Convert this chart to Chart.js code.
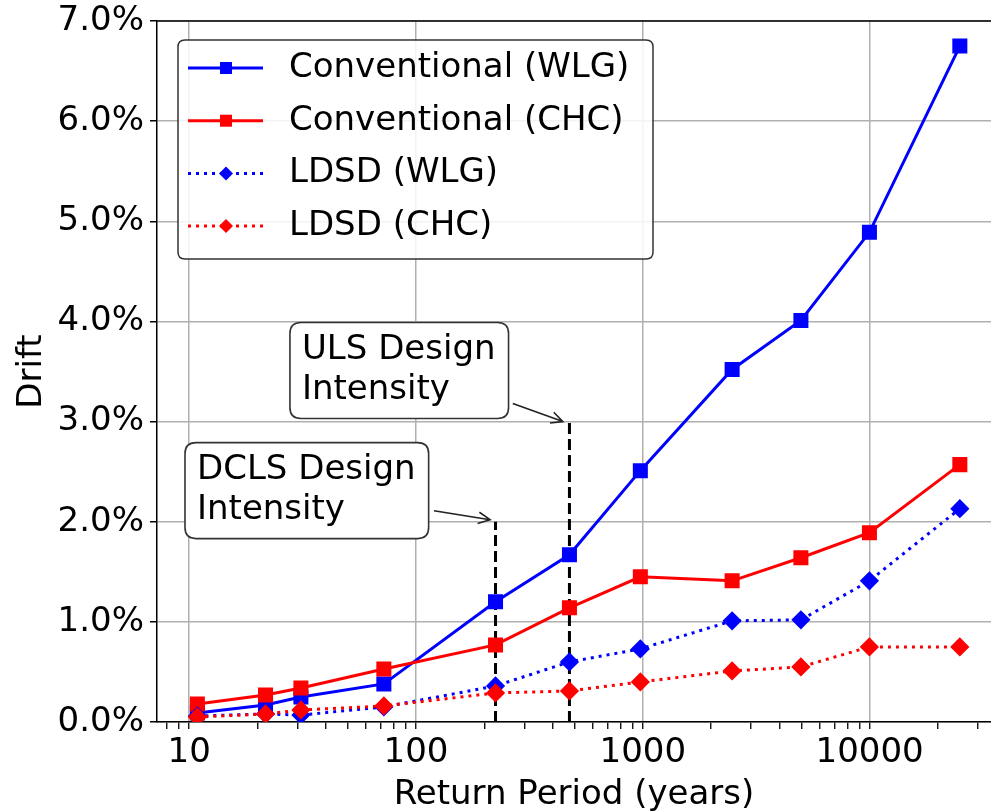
<!DOCTYPE html>
<html>
<head>
<meta charset="utf-8">
<script src="https://cdn.jsdelivr.net/npm/chart.js@4.4.1/dist/chart.umd.min.js"></script>
<style>
    html, body { margin: 0; padding: 0; background: #fff; }
    canvas { display: block; }
</style>
</head>
<body>
<canvas id="grafico" width="991" height="812"></canvas>
<script>
// Periodos de retorno (años) y derivas (%)
const periodos = [10.86, 21.7, 31.07, 72.13, 224.1, 474.6, 974.8, 2475, 4975, 9975, 24975];
const convWLG = [0.09, 0.17, 0.25, 0.38, 1.20, 1.67, 2.51, 3.52, 4.01, 4.89, 6.75];
const convCHC = [0.18, 0.27, 0.34, 0.53, 0.77, 1.14, 1.45, 1.41, 1.64, 1.89, 2.57];
const ldsdWLG = [0.06, 0.08, 0.07, 0.15, 0.36, 0.60, 0.73, 1.01, 1.02, 1.41, 2.13];
const ldsdCHC = [0.05, 0.08, 0.12, 0.16, 0.29, 0.31, 0.40, 0.51, 0.55, 0.75, 0.75];
const etiquetas = ['Conventional (WLG)', 'Conventional (CHC)', 'LDSD (WLG)', 'LDSD (CHC)'];

// Intensidades de diseño (DCLS, ULS)
const periodosDiseno = [224.1, 474.6];
const derivaDiseno = [2.0, 3.0];
const textosDiseno = [['DCLS Design', 'Intensity'], ['ULS Design', 'Intensity']];

// Etiquetas de ejes
const ticksX = [10, 100, 1000, 10000];
const ticksY = ['0.0%', '1.0%', '2.0%', '3.0%', '4.0%', '5.0%', '6.0%', '7.0%'];

const FUENTE = "'DejaVu Sans', sans-serif";
const AZUL = '#0000ff';
const ROJO = '#ff0000';

function serie(valores) {
    return periodos.map((p, i) => ({ x: p, y: valores[i] }));
}

function lineaDiseno(i) {
    return {
        label: '',
        data: [{ x: periodosDiseno[i], y: 0 }, { x: periodosDiseno[i], y: derivaDiseno[i] }],
        borderColor: '#000',
        borderWidth: 3,
        borderDash: [11, 5],
        pointRadius: 0,
        order: 10,
        enLeyenda: false
    };
}

const datasets = [
    { label: etiquetas[0], data: serie(convWLG), borderColor: AZUL, backgroundColor: AZUL,
      borderWidth: 3, pointStyle: 'rect', pointRadius: 8.5, order: 4, enLeyenda: true },
    { label: etiquetas[1], data: serie(convCHC), borderColor: ROJO, backgroundColor: ROJO,
      borderWidth: 3, pointStyle: 'rect', pointRadius: 8.5, order: 3, enLeyenda: true },
    { label: etiquetas[2], data: serie(ldsdWLG), borderColor: AZUL, backgroundColor: AZUL,
      borderWidth: 3, borderDash: [3, 5], pointStyle: 'rectRot', pointRadius: 7.5, order: 2, enLeyenda: true },
    { label: etiquetas[3], data: serie(ldsdCHC), borderColor: ROJO, backgroundColor: ROJO,
      borderWidth: 3, borderDash: [3, 5], pointStyle: 'rectRot', pointRadius: 7.5, order: 1, enLeyenda: true },
    lineaDiseno(0),
    lineaDiseno(1)
];

// Anclas de las anotaciones en coordenadas de datos
const anotaciones = [
    { texto: textosDiseno[0], caja: [9.58, 2.79], cola: [120, 2.11], punta: [212, 2.02] },
    { texto: textosDiseno[1], caja: [27.8, 3.99], cola: [267, 3.18], punta: [444, 3.0] }
];

function cajaRedondeada(ctx, x, y, w, h, r) {
    ctx.beginPath();
    ctx.moveTo(x + r, y);
    ctx.lineTo(x + w - r, y);
    ctx.quadraticCurveTo(x + w, y, x + w, y + r);
    ctx.lineTo(x + w, y + h - r);
    ctx.quadraticCurveTo(x + w, y + h, x + w - r, y + h);
    ctx.lineTo(x + r, y + h);
    ctx.quadraticCurveTo(x, y + h, x, y + h - r);
    ctx.lineTo(x, y + r);
    ctx.quadraticCurveTo(x, y, x + r, y);
    ctx.closePath();
}

function marcador(ctx, estilo, x, y, color) {
    ctx.fillStyle = color;
    ctx.beginPath();
    if (estilo === 'rect') {
        ctx.rect(x - 6, y - 6, 12, 12);
    } else {
        ctx.moveTo(x, y - 7);
        ctx.lineTo(x + 7, y);
        ctx.lineTo(x, y + 7);
        ctx.lineTo(x - 7, y);
        ctx.closePath();
    }
    ctx.fill();
}

const extras = {
    id: 'extras',
    afterDraw(chart) {
        const ctx = chart.ctx;
        const area = chart.chartArea;
        const sx = chart.scales.x;
        const sy = chart.scales.y;
        ctx.save();

        // Borde superior
        ctx.strokeStyle = '#000';
        ctx.lineWidth = 1.5;
        ctx.beginPath();
        ctx.moveTo(area.left, area.top);
        ctx.lineTo(area.right, area.top);
        ctx.stroke();

        // Anotaciones con flecha
        ctx.font = '34px ' + FUENTE;
        anotaciones.forEach(a => {
            const bx = sx.getPixelForValue(a.caja[0]);
            const by = sy.getPixelForValue(a.caja[1]);
            const ancho = Math.max(...a.texto.map(t => ctx.measureText(t).width)) + 25;
            const alto = 96;
            cajaRedondeada(ctx, bx, by, ancho, alto, 11);
            ctx.fillStyle = '#ffffff';
            ctx.fill();
            ctx.strokeStyle = '#333';
            ctx.lineWidth = 1.6;
            ctx.stroke();
            ctx.fillStyle = '#000';
            ctx.textBaseline = 'middle';
            ctx.textAlign = 'left';
            a.texto.forEach((t, k) => ctx.fillText(t, bx + 12, by + 28 + k * 40));

            const x0 = sx.getPixelForValue(a.cola[0]), y0 = sy.getPixelForValue(a.cola[1]);
            const x1 = sx.getPixelForValue(a.punta[0]), y1 = sy.getPixelForValue(a.punta[1]);
            const ang = Math.atan2(y1 - y0, x1 - x0);
            ctx.strokeStyle = '#222';
            ctx.lineWidth = 1.6;
            ctx.beginPath();
            ctx.moveTo(x0, y0);
            ctx.lineTo(x1, y1);
            ctx.moveTo(x1 - 13 * Math.cos(ang - 0.45), y1 - 13 * Math.sin(ang - 0.45));
            ctx.lineTo(x1, y1);
            ctx.lineTo(x1 - 13 * Math.cos(ang + 0.45), y1 - 13 * Math.sin(ang + 0.45));
            ctx.stroke();
        });

        // Leyenda
        const lx = area.left + 21, ly = area.top + 19;
        cajaRedondeada(ctx, lx, ly, 475, 219, 7);
        ctx.fillStyle = 'rgba(255,255,255,0.85)';
        ctx.fill();
        ctx.strokeStyle = '#333';
        ctx.lineWidth = 1.5;
        ctx.stroke();
        chart.data.datasets.filter(d => d.enLeyenda).forEach((d, i) => {
            const y = ly + 28 + i * 52.7;
            ctx.strokeStyle = d.borderColor;
            ctx.lineWidth = 3;
            ctx.setLineDash(d.borderDash || []);
            ctx.beginPath();
            ctx.moveTo(lx + 10, y);
            ctx.lineTo(lx + 85, y);
            ctx.stroke();
            ctx.setLineDash([]);
            marcador(ctx, d.pointStyle, lx + 48, y, d.backgroundColor);
            ctx.fillStyle = '#000';
            ctx.textAlign = 'left';
            ctx.textBaseline = 'middle';
            ctx.fillText(d.label, lx + 111, y);
        });
        ctx.restore();
    }
};

new Chart(document.getElementById('grafico').getContext('2d'), {
    type: 'line',
    data: { datasets: datasets },
    options: {
        responsive: false,
        animation: false,
        layout: { autoPadding: false, padding: { top: 21, right: 0, left: 0, bottom: 0 } },
        plugins: { legend: { display: false }, tooltip: { enabled: false } },
        scales: {
            x: {
                type: 'logarithmic',
                min: 7.21,
                max: 34270,
                afterBuildTicks(scale) {
                    const lista = [];
                    for (let e = 0; e <= 4; e++) {
                        for (let m = 1; m <= 9; m++) {
                            const v = m * Math.pow(10, e);
                            if (v >= scale.min && v <= scale.max) lista.push({ value: v });
                        }
                    }
                    scale.ticks = lista;
                },
                afterFit(scale) {
                    scale.height = 90;
                    scale.paddingLeft = 0;
                    scale.paddingRight = 0;
                },
                ticks: {
                    autoSkip: false,
                    maxRotation: 0,
                    color: '#000',
                    padding: 4,
                    font: { family: FUENTE, size: 34 },
                    callback: v => ticksX.includes(v) ? String(v) : ''
                },
                grid: {
                    color: c => ticksX.includes(c.tick && c.tick.value) ? '#b0b0b0' : 'rgba(0,0,0,0)',
                    lineWidth: 1.5,
                    tickColor: '#000',
                    tickWidth: 1.3,
                    tickLength: 7
                },
                border: { color: '#000', width: 1.5 },
                title: {
                    display: true,
                    text: 'Return Period (years)',
                    color: '#000',
                    font: { family: FUENTE, size: 34 },
                    padding: { top: 0, bottom: -4 }
                }
            },
            y: {
                min: 0,
                max: 7,
                afterFit(scale) {
                    scale.width = 157;
                    scale.paddingTop = 0;
                    scale.paddingBottom = 0;
                },
                ticks: {
                    stepSize: 1,
                    color: '#000',
                    padding: 6,
                    font: { family: FUENTE, size: 34 },
                    callback: v => ticksY[v]
                },
                grid: {
                    color: '#b0b0b0',
                    lineWidth: 1.5,
                    tickColor: '#000',
                    tickWidth: 1.5,
                    tickLength: 7
                },
                border: { color: '#000', width: 1.5 },
                title: {
                    display: true,
                    text: 'Drift',
                    color: '#000',
                    font: { family: FUENTE, size: 34 },
                    padding: { top: 12, bottom: 0 }
                }
            }
        }
    },
    plugins: [extras]
});
</script>
</body>
</html>
